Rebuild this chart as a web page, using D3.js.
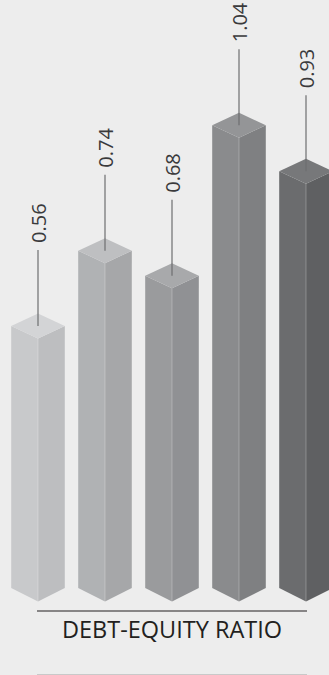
<!DOCTYPE html>
<html>
<head>
<meta charset="utf-8">
<script src="https://cdn.jsdelivr.net/npm/d3@7"></script>
<style>
  html, body { margin: 0; padding: 0; background: #ededed; }
  svg { display: block; }
</style>
</head>
<body>
<div id="chart"></div>
<script>
// debt-equity ratio, one bar per period (no category labels shown)
var values = [0.56, 0.74, 0.68, 1.04, 0.93];
var topColors = ["#d3d4d6", "#bebfc1", "#a8a9ab", "#949597", "#77787a"];
var leftColors = ["#c8c9cb", "#b0b2b4", "#9a9b9d", "#8a8b8d", "#6b6c6e"];
var rightColors = ["#bdbec0", "#a6a7a9", "#909194", "#7f8082", "#5f6062"];
var title = "DEBT-EQUITY RATIO";

var width = 329, height = 675;
var baseY = 588;      // where the side edges of the prisms stop
var dy = 12.5;        // half height of the top diamond
var leader = 76;      // length of the label leader line
var gap = 7;          // space between leader and label

var svg = d3.select("#chart").append("svg")
  .attr("width", width)
  .attr("height", height);

svg.append("rect")
  .attr("width", width)
  .attr("height", height)
  .attr("fill", "#ededed");

var x = d3.scaleBand()
  .domain(d3.range(values.length))
  .range([4.5, 339.5])
  .paddingInner(0.2)
  .paddingOuter(0.1);

var y = d3.scaleLinear()
  .domain([0, 1])
  .range([560, 142]);

var bars = svg.append("g").attr("class", "bars")
  .selectAll("g")
  .data(values)
  .enter().append("g");

function pts(a){ return a.map(function(p){ return p.join(","); }).join(" "); }

// left face
bars.append("polygon")
  .attr("fill", function(d, i){ return leftColors[i]; })
  .attr("points", function(d, i){
    var l = x(i), c = l + x.bandwidth() / 2, t = y(d);
    return pts([[l, t], [c, t + dy], [c, baseY + dy + 1], [l, baseY]]);
  });

// right face
bars.append("polygon")
  .attr("fill", function(d, i){ return rightColors[i]; })
  .attr("points", function(d, i){
    var l = x(i), r = l + x.bandwidth(), c = l + x.bandwidth() / 2, t = y(d);
    return pts([[c, t + dy], [r, t], [r, baseY], [c, baseY + dy + 1]]);
  });

// top diamond
bars.append("polygon")
  .attr("fill", function(d, i){ return topColors[i]; })
  .attr("points", function(d, i){
    var l = x(i), r = l + x.bandwidth(), c = l + x.bandwidth() / 2, t = y(d);
    return pts([[c, t - dy], [r, t], [c, t + dy], [l, t]]);
  });

// light front edge
bars.append("line")
  .attr("x1", function(d, i){ return x(i) + x.bandwidth() / 2; })
  .attr("x2", function(d, i){ return x(i) + x.bandwidth() / 2; })
  .attr("y1", function(d){ return y(d) + dy; })
  .attr("y2", baseY + dy + 1)
  .attr("stroke", "#ffffff")
  .attr("stroke-opacity", 0.25)
  .attr("stroke-width", 1);

// leader lines
bars.append("line")
  .attr("x1", function(d, i){ return x(i) + x.bandwidth() / 2; })
  .attr("x2", function(d, i){ return x(i) + x.bandwidth() / 2; })
  .attr("y1", function(d){ return y(d); })
  .attr("y2", function(d){ return y(d) - leader; })
  .attr("stroke", "#6d6e70")
  .attr("stroke-width", 1.2);

// value labels, rotated
bars.append("text")
  .attr("transform", function(d, i){
    var c = x(i) + x.bandwidth() / 2;
    return "translate(" + (c + 7.5) + "," + (y(d) - leader - gap) + ") rotate(-90)";
  })
  .attr("font-family", "'Open Sans', sans-serif")
  .attr("font-size", 20)
  .attr("fill", "#3a3a3c")
  .attr("text-anchor", "start")
  .text(function(d){ return d3.format(".2f")(d); });

// base line + title
svg.append("line")
  .attr("x1", 37).attr("x2", 307)
  .attr("y1", 611).attr("y2", 611)
  .attr("stroke", "#231f20")
  .attr("stroke-width", 1.2);

svg.append("text")
  .attr("x", 172)
  .attr("y", 637.5)
  .attr("text-anchor", "middle")
  .attr("font-family", "'Open Sans', sans-serif")
  .attr("font-size", 23.5)
  .attr("fill", "#231f20")
  .text(title);

svg.append("line")
  .attr("x1", 37).attr("x2", 307)
  .attr("y1", 674.5).attr("y2", 674.5)
  .attr("stroke", "#c9c9c9")
  .attr("stroke-width", 1);
</script>
</body>
</html>
